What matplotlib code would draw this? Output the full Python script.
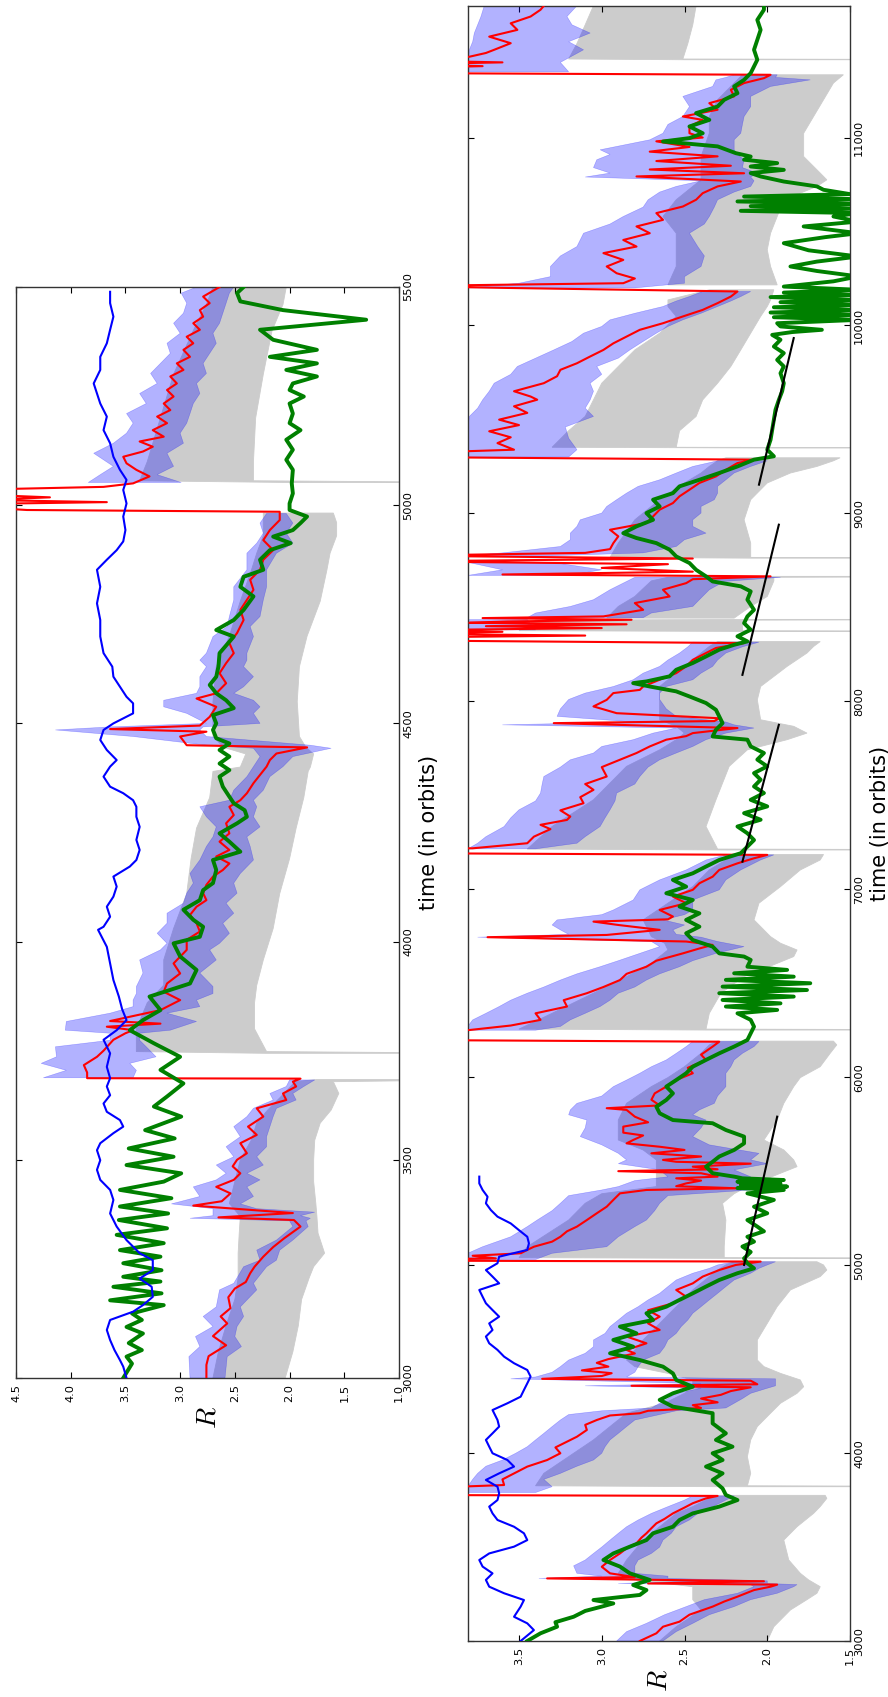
import matplotlib
matplotlib.use("Agg")
import matplotlib.pyplot as plt

plt.rcParams['mathtext.fontset'] = 'cm'

# ---------------- TOP PANEL DATA (time, R) ----------------
top_red = [(3000,2.76),(3030,2.76),(3050,2.74),(3075,2.58),(3096,2.70),(3125,2.57),(3141,2.63),(3160,2.54),
 (3185,2.56),(3205,2.50),(3220,2.40),(3240,2.36),(3255,2.32),(3278,2.24),(3300,2.15),(3320,2.05),(3347,1.90),
 (3362,1.96),(3368,2.65),(3378,1.97),(3395,2.88),(3405,2.62),(3423,2.54),(3438,2.67),(3454,2.51),(3469,2.45),
 (3485,2.52),(3500,2.48),(3515,2.39),(3538,2.45),(3557,2.30),(3576,2.38),(3599,2.24),(3618,2.30),(3637,2.03),
 (3652,2.06),(3668,1.94),(3679,1.97),(3686,1.90),(3687,3.85),(3700,3.85),(3717,3.88),(3736,3.76),(3750,3.70),
 (3775,3.61),(3790,3.50),(3797,3.43),(3805,3.67),(3812,3.18),(3818,3.64),(3843,3.18),(3866,3.00),(3885,3.15),
 (3904,3.12),(3927,3.00),(3950,3.06),(3981,2.94),(4004,2.94),(4023,2.82),(4042,2.85),
 (4061,2.91),(4080,2.85),(4095,2.76),(4111,2.79),(4130,2.76),(4149,2.70),(4164,2.61),(4179,2.55),(4195,2.67),
 (4210,2.55),(4229,2.64),(4248,2.55),(4271,2.58),(4290,2.51),(4309,2.55),(4324,2.45),(4340,2.39),(4363,2.33),
 (4382,2.27),(4401,2.21),(4416,2.18),(4431,2.12),(4445,1.84),(4450,2.94),(4470,3.00),(4481,2.76),(4487,3.64),
 (4495,2.82),(4515,2.73),(4538,2.67),(4557,2.85),(4569,2.67),(4592,2.58),(4615,2.64),(4638,2.58),(4661,2.51),
 (4684,2.55),(4707,2.48),(4737,2.42),(4760,2.45),(4783,2.39),(4806,2.33),(4829,2.36),(4852,2.27),(4875,2.24),
 (4897,2.15),(4920,2.24),(4943,2.18),(4966,2.09),(4985,2.09),(4989,4.40),(4995,4.8),(5003,4.8),(5007,3.67),
 (5012,4.8),(5018,4.19),(5024,4.8),(5036,4.8),(5042,3.70),(5050,3.43),(5066,3.28),(5081,3.40),(5096,3.49),
 (5111,3.52),(5123,3.34),(5134,3.25),(5146,3.37),(5157,3.15),(5172,3.25),(5188,3.12),(5203,3.21),(5218,3.09),
 (5233,3.15),(5249,3.06),(5264,3.12),(5279,3.03),(5295,3.09),(5310,2.97),(5325,3.03),(5340,2.91),(5356,2.97),
 (5371,2.88),(5386,2.94),(5402,2.82),(5417,2.88),(5432,2.79),(5447,2.82),(5463,2.73),(5478,2.79),(5500,2.64)]

top_blue = [(3000,3.49),(3026,3.52),(3041,3.55),(3064,3.60),(3087,3.64),(3110,3.67),(3133,3.64),(3152,3.43),
 (3167,3.34),(3186,3.25),(3209,3.26),(3228,3.37),(3247,3.25),(3270,3.25),(3286,3.37),(3316,3.49),(3347,3.58),
 (3377,3.64),(3408,3.61),(3431,3.64),(3454,3.73),(3477,3.76),(3499,3.73),(3522,3.76),(3538,3.73),(3561,3.61),
 (3576,3.52),(3591,3.55),(3610,3.67),(3629,3.70),(3648,3.64),(3668,3.67),(3687,3.64),(3713,3.67),(3744,3.64),
 (3775,3.70),(3797,3.58),(3820,3.49),(3845,3.53),(3874,3.56),(3912,3.61),(3950,3.64),(3988,3.67),(4027,3.75),
 (4034,3.70),(4057,3.64),(4080,3.67),(4103,3.61),(4126,3.58),(4149,3.61),(4172,3.46),
 (4187,3.40),(4210,3.37),(4233,3.40),(4263,3.37),(4286,3.40),(4309,3.40),(4324,3.43),(4340,3.52),(4355,3.64),
 (4378,3.70),(4401,3.64),(4416,3.58),(4439,3.67),(4462,3.73),(4485,3.70),(4500,3.61),(4523,3.43),(4546,3.43),
 (4561,3.49),(4584,3.55),(4607,3.61),(4630,3.62),(4661,3.70),(4699,3.73),(4737,3.73),(4775,3.76),(4813,3.73),
 (4852,3.76),(4875,3.67),(4897,3.58),(4917,3.52),(4943,3.50),(4974,3.52),(5004,3.49),(5035,3.52),(5058,3.49),
 (5081,3.55),(5111,3.61),(5142,3.64),(5172,3.70),(5203,3.67),(5233,3.73),(5256,3.76),(5279,3.79),(5310,3.73),
 (5340,3.73),(5371,3.67),(5402,3.64),(5432,3.61),(5463,3.64),(5489,3.64)]

top_green = [(3000,3.52),(3033,3.44),(3049,3.49),(3064,3.35),(3080,3.47),(3102,3.34),(3117,3.49),(3133,3.35),
 (3148,3.44),(3167,3.15),(3178,3.64),(3194,3.17),(3209,3.61),(3221,3.18),(3232,3.52),(3247,3.17),(3263,3.52),
 (3278,3.18),(3293,3.55),(3309,3.15),(3328,3.58),(3343,3.12),(3362,3.56),(3377,3.11),(3393,3.55),(3412,3.08),
 (3431,3.55),(3450,3.15),(3469,2.99),(3488,3.49),(3507,3.06),(3526,3.47),(3549,3.05),(3568,3.32),(3599,2.99),
 (3622,3.24),(3645,3.12),(3675,2.97),(3706,3.18),(3736,3.00),(3767,3.24),(3797,3.46),(3820,3.34),(3843,3.18),
 (3874,3.28),(3904,2.91),(3935,2.85),(3966,3.00),(3996,3.06),(4011,2.82),(4034,2.79),(4050,2.88),(4073,2.97),
 (4095,2.82),(4118,2.79),(4134,2.70),(4164,2.67),(4187,2.70),
 (4206,2.45),(4229,2.55),(4248,2.64),(4271,2.48),(4286,2.39),(4301,2.41),(4317,2.51),(4332,2.55),(4355,2.61),
 (4378,2.64),(4393,2.55),(4408,2.64),(4424,2.55),(4439,2.64),(4454,2.55),(4466,2.67),(4485,2.70),(4500,2.67),
 (4519,2.70),(4535,2.51),(4553,2.58),(4569,2.67),(4588,2.73),(4607,2.67),(4630,2.65),(4661,2.64),(4699,2.51),
 (4714,2.67),(4737,2.51),(4760,2.42),(4791,2.33),(4813,2.45),(4836,2.42),(4852,2.24),(4875,2.27),(4897,2.18),
 (4913,1.99),(4928,2.15),(4943,1.97),(4959,1.90),(4974,1.84),(4989,2.00),(5004,2.00),(5027,1.97),(5050,1.98),
 (5081,1.97),(5104,2.03),(5127,1.97),(5150,2.03),(5172,1.90),(5188,2.00),(5210,1.97),(5233,2.00),(5249,1.87),
 (5264,2.00),(5279,1.97),(5295,1.75),(5310,2.03),(5325,1.75),(5340,2.18),(5356,1.75),(5379,2.15),(5402,2.27),
 (5425,1.30),(5447,2.06),(5467,2.45),(5486,2.48),(5500,2.42)]

# blue band segments: (time, R high, R low)
top_band = [
 [(3000,2.91,2.59),(3049,2.92,2.57),(3072,2.82,2.44),(3095,2.86,2.50),(3118,2.70,2.48),(3141,2.79,2.42),
  (3163,2.67,2.45),(3202,2.64,2.30),(3217,2.51,2.33),(3255,2.42,2.21),(3270,2.27,2.12),(3293,2.30,2.09),
  (3316,2.12,1.97),(3347,1.97,1.83),(3360,2.00,1.85),(3366,2.91,1.81),(3372,2.70,1.90),(3380,2.70,1.77),
  (3388,2.70,2.30),(3399,3.08,2.45),(3416,2.82,2.33),(3438,2.88,2.39),(3454,2.67,2.27),(3469,2.58,2.39),
  (3488,2.67,2.24),(3507,2.51,2.30),(3530,2.58,2.21),(3553,2.45,2.21),(3576,2.51,2.18),(3599,2.39,2.15),
  (3618,2.33,2.12),(3637,2.15,1.94),(3652,2.18,1.97),(3668,2.03,1.87),(3683,2.00,1.77)],
 [(3688,4.25,3.43),(3705,4.04,3.40),(3721,4.27,3.46),(3736,4.13,3.22),(3759,4.14,3.31),(3774,3.64,3.37),
  (3790,3.64,3.37),(3797,4.05,3.09),(3817,4.04,2.85),(3836,3.64,3.12),(3851,3.43,2.82),(3866,3.43,2.85),
  (3881,3.40,2.70),(3897,3.40,2.70),(3928,3.34,2.82),(3958,3.37,2.67),(3981,3.18,2.73),(3996,3.12,2.64),
  (4019,3.21,2.55),(4042,3.12,2.61),(4065,3.12,2.51),(4088,2.97,2.58),(4111,2.94,2.48),(4134,2.88,2.51),
  (4156,2.91,2.45),(4187,2.82,2.33),(4218,2.76,2.36),(4240,2.70,2.39),(4263,2.67,2.27),(4286,2.76,2.33),
  (4309,2.82,2.30),(4324,2.55,2.33),(4347,2.51,2.24),(4378,2.39,2.18),(4401,2.33,2.06),(4424,2.27,1.97),
  (4443,2.33,1.62),(4450,2.76,1.81),(4470,3.43,2.76),(4485,4.14,2.82),(4492,3.64,2.79),(4500,2.76,2.27),
  (4523,2.94,2.33),(4538,3.15,2.27),(4553,3.15,2.33),(4569,2.85,2.51),(4584,2.82,2.42),(4607,2.82,2.33),
  (4630,2.76,2.42),(4645,2.82,2.39),(4661,2.76,2.39),(4699,2.70,2.33),(4722,2.57,2.36),(4745,2.55,2.27),
  (4783,2.51,2.24),(4813,2.51,2.21),(4852,2.39,2.21),(4890,2.39,2.12),(4913,2.30,1.97),(4936,2.24,2.03),
  (4959,2.27,1.97),(4981,2.21,2.03)],
 [(5052,3.84,2.99),(5070,3.73,3.21),(5089,3.61,3.06),(5119,3.79,3.12),(5142,3.61,2.97),(5165,3.49,3.00),
  (5188,3.43,2.94),(5210,3.49,2.91),(5233,3.31,2.88),(5256,3.37,2.82),(5279,3.21,2.85),(5302,3.27,2.76),
  (5325,3.18,2.79),(5348,3.09,2.73),(5371,3.12,2.67),(5394,3.00,2.70),(5417,3.06,2.64),(5440,2.97,2.61),
  (5463,2.94,2.58),(5486,2.99,2.55),(5500,2.85,2.51)],
]

# grey band segments: (time, R high, R low)
top_grey = [
 [(3000,2.70,2.04),(3060,2.65,1.97),(3120,2.58,1.92),(3180,2.50,1.89),(3230,2.47,1.82),(3255,2.47,1.78),
  (3286,2.47,1.68),(3332,2.46,1.74),(3370,2.45,1.75),(3400,2.55,1.76),(3450,2.50,1.78),(3500,2.45,1.78),
  (3545,2.35,1.77),(3584,2.30,1.72),(3614,2.20,1.62),(3652,2.05,1.55),(3679,1.95,1.60),(3684,1.75,0.0)],
 [(3744,2.21,0.0),(3748,3.40,2.21),(3800,3.40,2.32),(3860,3.30,2.32),(3900,3.15,2.30),(3958,3.15,2.24),
  (4030,3.06,2.15),(4110,2.94,2.09),(4190,2.90,2.00),(4260,2.85,1.94),(4330,2.73,1.87),(4390,2.70,1.83),
  (4400,2.45,1.81),(4430,2.40,1.78),(4445,2.60,1.85),(4470,2.70,1.91),(4550,2.70,1.93),(4630,2.67,1.91),
  (4700,2.55,1.84),(4780,2.45,1.72),(4850,2.35,1.66),(4890,2.30,1.63),(4930,2.24,1.57),(4960,2.24,1.57),
  (4982,2.24,1.60)],
 [(5052,1.99,0.0),(5056,3.37,2.33),(5100,3.30,2.33),(5200,3.18,2.31),(5300,3.06,2.24),(5400,2.88,2.16),
  (5460,2.76,2.06),(5500,2.70,2.03)],
]

# ---------------- BOTTOM PANEL DATA (time, R) ----------------
bot_red = [(3000,2.77),(3041,2.67),(3076,2.63),(3103,2.53),(3140,2.47),(3183,2.33),(3210,2.26),(3236,2.18),
 (3271,2.08),(3289,1.98),(3300,1.94),(3306,2.72),(3318,2.02),(3333,3.33),(3340,2.80),(3360,2.95),(3395,3.00),
 (3431,2.95),(3466,2.89),(3500,2.84),(3520,2.79),(3550,2.76),(3573,2.73),(3600,2.70),(3626,2.67),(3650,2.62),
 (3679,2.57),(3710,2.50),(3733,2.45),(3759,2.37),(3772,2.30),(3777,4.2),(3810,4.2),(3830,3.59),(3860,3.60),
 (3892,3.53),(3928,3.45),(3963,3.33),(3999,3.25),(4030,3.28),(4052,3.23),(4087,3.15),(4123,3.09),(4150,3.10),
 (4176,3.03),(4200,2.95),(4212,2.77),(4225,2.72),(4240,2.40),(4255,2.45),(4270,2.30),(4290,2.40),(4310,2.28),
 (4330,2.22),(4350,2.10),(4358,2.82),(4366,2.06),(4385,2.10),(4395,3.36),(4410,3.00),(4425,2.94),(4440,3.12),
 (4460,2.96),(4480,3.03),(4500,2.96),(4530,2.80),(4549,2.85),(4584,2.73),(4620,2.85),(4655,2.65),(4690,2.72),
 (4726,2.65),(4760,2.72),(4797,2.57),(4832,2.49),(4868,2.55),(4903,2.45),(4939,2.39),(4974,2.29),(5001,2.19),
 (5019,2.04),(5024,4.2),(5030,4.2),(5036,3.64),(5050,3.78),(5063,3.49),(5081,3.45),(5098,3.41),(5125,3.30),
 (5151,3.25),(5180,3.21),(5205,3.15),(5240,3.09),(5276,3.03),(5311,2.97),(5347,2.93),(5382,2.89),(5400,2.73),
 (5409,2.18),(5420,2.55),(5435,2.49),(5450,2.40),(5462,2.55),(5471,2.30),(5489,2.40),(5500,2.90),(5510,2.30),
 (5524,2.45),(5540,2.10),(5550,2.55),(5560,2.63),(5578,2.40),(5595,2.70),(5613,2.50),(5630,2.65),(5648,2.85),
 (5666,2.81),(5690,2.75),(5705,2.87),(5737,2.87),(5760,2.72),(5790,2.80),(5826,2.85),(5835,2.97),(5850,2.65),
 (5880,2.70),(5914,2.68),(5950,2.61),(5985,2.55),(6021,2.45),(6050,2.48),(6092,2.37),(6120,2.40),(6163,2.33),
 (6189,2.29),(6198,4.2),(6248,4.2),(6251,3.80),(6275,3.55),(6305,3.37),(6340,3.40),(6376,3.21),(6410,3.23),
 (6447,3.09),(6480,2.99),(6517,2.89),(6550,2.85),(6588,2.73),(6620,2.67),(6659,2.51),(6685,2.41),(6704,2.33),
 (6722,2.49),(6745,3.69),(6757,2.97),(6784,2.65),(6810,2.90),(6828,3.05),(6840,2.60),(6855,2.57),(6890,2.65),
 (6926,2.49),(6961,2.57),(6997,2.45),(7032,2.41),(7067,2.33),(7103,2.29),(7138,2.18),(7165,2.08),(7183,2.00),
 (7192,4.2),(7215,4.2),(7218,3.78),(7245,3.45),(7280,3.41),(7320,3.31),(7343,3.37),(7369,3.21),(7387,3.19),
 (7420,3.25),(7458,3.11),(7490,3.13),(7529,3.05),(7560,3.10),(7600,2.97),(7650,3.00),(7689,2.89),(7725,2.79),
 (7760,2.71),(7796,2.61),(7815,2.49),(7831,2.45),(7858,2.18),(7884,3.29),(7895,2.32),(7910,2.29),(7937,2.91),
 (7973,3.05),(8008,2.97),(8044,2.93),(8061,2.77),(8079,2.75),(8115,2.65),(8150,2.55),(8186,2.49),(8221,2.45),
 (8257,2.37),(8284,2.31),(8310,2.14),(8324,4.2),(8340,4.2),(8350,3.10),(8360,4.2),(8370,3.60),(8378,4.2),
 (8390,3.00),(8400,3.70),(8410,2.85),(8418,3.80),(8425,3.57),(8434,2.82),(8443,3.72),(8452,2.99),(8487,2.75),
 (8523,2.80),(8558,2.59),(8594,2.63),(8629,2.49),(8650,2.45),(8665,1.98),(8675,3.60),(8690,2.45),(8710,3.00),
 (8730,2.60),(8745,4.2),(8760,2.45),(8775,4.2),(8790,3.10),(8810,2.95),(8842,2.93),(8878,2.90),(8913,2.95),
 (8949,2.73),(8984,2.69),(9020,2.65),(9055,2.57),(9091,2.53),(9126,2.47),(9162,2.41),(9197,2.31),(9232,2.25),
 (9268,2.18),(9286,2.08),(9300,4.2),(9320,4.2),(9339,3.53),(9374,3.63),(9405,3.55),(9437,3.68),(9470,3.50),
 (9499,3.62),(9535,3.45),(9570,3.53),(9605,3.39),(9622,3.43),(9650,3.53),(9693,3.35),(9730,3.27),(9764,3.25),
 (9799,3.15),(9835,3.07),(9870,2.99),(9905,2.93),(9941,2.85),(9977,2.77),(10012,2.63),(10048,2.51),(10083,2.39),
 (10119,2.30),(10154,2.22),(10181,2.18),(10200,3.59),(10210,4.2),(10225,2.87),(10250,2.80),(10278,2.91),
 (10314,2.97),(10349,2.87),(10385,2.99),(10420,2.79),(10455,2.87),(10491,2.71),(10527,2.79),(10562,2.63),
 (10598,2.67),(10633,2.51),(10669,2.43),(10704,2.39),(10740,2.30),(10766,2.16),(10793,2.79),(10810,2.14),
 (10830,2.71),(10850,2.22),(10875,2.67),(10900,2.30),(10925,2.71),(10950,2.47),(10980,2.67),(11000,2.39),
 (11023,2.47),(11059,2.47),(11094,2.39),(11112,2.51),(11148,2.30),(11183,2.35),(11219,2.20),(11254,2.22),
 (11290,2.14),(11316,2.02),(11334,1.98),(11343,4.2),(11370,4.2),(11380,3.72),(11390,4.2),(11400,3.60),
 (11410,4.2),(11430,3.80),(11450,3.70),(11467,3.65),(11502,3.55),(11537,3.68),(11573,3.51),(11608,3.55),
 (11644,3.43),(11680,3.37),(11701,3.35)]

bot_blue = [(3000,3.49),(3058,3.41),(3094,3.45),(3129,3.53),(3183,3.49),(3218,3.47),(3254,3.59),(3289,3.68),
 (3325,3.70),(3360,3.66),(3396,3.72),(3431,3.74),(3466,3.68),(3502,3.53),(3537,3.45),(3573,3.47),(3608,3.53),
 (3644,3.63),(3679,3.66),(3715,3.68),(3750,3.63),(3786,3.62),(3821,3.63),(3857,3.70),(3892,3.62),(3928,3.53),
 (3963,3.57),(3999,3.66),(4034,3.68),(4070,3.70),(4105,3.66),(4141,3.62),(4176,3.63),(4229,3.66),(4265,3.57),
 (4300,3.49),(4336,3.47),(4371,3.45),(4407,3.43),(4442,3.45),(4478,3.53),(4513,3.59),(4549,3.63),(4584,3.68),
 (4620,3.70),(4655,3.66),(4690,3.68),(4726,3.62),(4761,3.66),(4797,3.70),(4832,3.72),(4868,3.74),(4903,3.62),
 (4939,3.66),(4974,3.70),(5010,3.63),(5045,3.62),(5081,3.45),(5116,3.44),(5151,3.45),(5186,3.50),(5222,3.55),
 (5258,3.63),(5293,3.67),(5329,3.70),(5364,3.69),(5400,3.72),(5435,3.74),(5471,3.74)]

bot_green = [(3000,3.45),(3041,3.37),(3076,3.27),(3100,3.28),(3129,3.17),(3160,3.10),(3183,3.00),(3200,2.93),
 (3218,3.05),(3245,2.77),(3271,2.73),(3298,2.81),(3325,2.71),(3360,2.83),(3396,2.89),(3431,2.99),(3466,2.93),
 (3502,2.83),(3537,2.73),(3573,2.69),(3608,2.57),(3644,2.53),(3679,2.45),(3715,2.29),(3750,2.18),(3777,2.25),
 (3812,2.27),(3857,2.33),(3892,2.27),(3928,2.37),(3963,2.27),(3999,2.33),(4034,2.21),(4070,2.31),(4105,2.25),
 (4158,2.33),(4212,2.33),(4247,2.57),(4283,2.65),(4318,2.57),(4353,2.45),(4389,2.55),(4424,2.57),(4460,2.63),
 (4495,2.77),(4531,2.95),(4566,2.81),(4602,2.93),(4637,2.79),(4673,2.89),(4708,2.69),(4744,2.73),(4779,2.61),
 (4815,2.53),(4850,2.45),(4886,2.37),(4921,2.29),(4957,2.18),(4983,2.08),(5010,2.12),(5036,2.14),(5070,2.10),
 (5099,2.15),(5125,2.08),(5151,2.12),(5180,2.02),(5205,2.06),(5240,2.12),(5276,2.00),(5311,2.08),(5347,1.96),
 (5382,2.12),(5400,1.90),(5410,2.18),(5418,1.88),(5427,2.16),(5435,1.92),(5444,2.18),(5453,1.90),(5462,2.15),
 (5471,2.20),(5489,2.33),(5524,2.37),(5550,2.33),(5578,2.29),(5613,2.20),(5648,2.14),(5684,2.14),(5719,2.25),
 (5755,2.33),(5772,2.57),(5808,2.65),(5843,2.67),(5879,2.61),(5914,2.57),(5950,2.61),(5985,2.55),(6021,2.49),
 (6056,2.45),(6092,2.37),(6127,2.29),(6163,2.20),(6198,2.12),(6234,2.10),(6269,2.08),(6305,2.10),(6340,2.18),
 (6358,1.94),(6376,2.25),(6393,1.92),(6411,2.27),(6429,1.84),(6447,2.29),(6464,1.76),(6482,2.27),(6500,1.74),
 (6518,2.25),(6535,1.84),(6553,2.20),(6571,1.88),(6588,2.12),(6624,2.10),(6642,2.14),(6659,2.29),(6695,2.33),
 (6730,2.45),(6766,2.49),(6801,2.41),(6837,2.49),(6872,2.41),(6908,2.53),(6943,2.45),(6979,2.61),(7014,2.49),
 (7050,2.57),(7085,2.45),(7121,2.37),(7156,2.29),(7192,2.16),(7227,2.12),(7262,2.08),(7298,2.12),(7334,2.18),
 (7370,2.04),(7405,2.14),(7441,2.00),(7476,2.10),(7512,2.02),(7547,2.08),(7583,2.04),(7618,2.08),(7654,2.00),
 (7690,2.06),(7725,2.02),(7760,2.10),(7796,2.12),(7813,2.33),(7849,2.31),(7884,2.27),(7920,2.29),(7955,2.31),
 (7991,2.37),(8026,2.47),(8053,2.55),(8079,2.71),(8097,2.81),(8106,2.73),(8133,2.59),(8168,2.55),(8204,2.45),
 (8239,2.37),(8275,2.29),(8301,2.20),(8319,2.12),(8346,2.18),(8381,2.10),(8416,2.14),(8452,2.12),(8487,2.08),
 (8541,2.12),(8585,2.10),(8612,2.16),(8638,2.33),(8665,2.37),(8700,2.43),(8736,2.47),(8771,2.55),(8807,2.59),
 (8842,2.67),(8869,2.79),(8895,2.87),(8931,2.79),(8966,2.69),(9002,2.73),(9037,2.65),(9073,2.69),(9108,2.57),
 (9144,2.53),(9179,2.41),(9215,2.29),(9250,2.18),(9286,2.08),(9304,1.96),(9339,2.00),(9392,1.98),(9446,1.97),
 (9499,1.96),(9552,1.95),(9604,1.93),(9650,1.91),(9693,1.90),(9746,1.92),(9782,1.90),(9817,1.94),(9853,1.90),
 (9888,1.96),(9924,1.92),(9950,1.97),(9965,1.85),(9977,1.67),(9995,1.92),(10012,1.94),(10030,1.45),(10044,1.96),
 (10057,1.45),(10069,1.98),(10083,1.45),(10097,1.96),(10110,1.45),(10124,1.92),(10136,1.45),(10151,1.98),
 (10163,1.45),(10175,1.90),(10190,1.45),(10207,1.90),(10235,1.60),(10261,1.45),(10290,1.70),(10314,1.86),
 (10340,1.70),(10367,1.45),(10400,1.75),(10438,1.90),(10470,1.65),(10491,1.45),(10527,1.78),(10553,1.45),
 (10580,1.60),(10598,1.45),(10610,2.16),(10622,1.45),(10635,2.10),(10647,1.45),(10660,2.18),(10672,1.45),
 (10686,2.14),(10699,1.50),(10722,1.66),(10740,1.70),(10766,1.90),(10793,2.04),(10811,2.10),(10828,1.90),
 (10846,2.10),(10864,1.94),(10882,2.14),(10899,2.10),(10917,2.19),(10953,2.30),(10970,2.51),(10979,2.63),
 (10997,2.47),(11023,2.39),(11059,2.47),(11094,2.35),(11130,2.43),(11165,2.30),(11201,2.26),(11236,2.18),
 (11272,2.20),(11307,2.14),(11343,2.10),(11378,2.08),(11414,2.06),(11467,2.08),(11520,2.06),(11573,2.04),
 (11626,2.06),(11680,2.02),(11701,2.02)]

bot_band = [
 [(3000,2.91,2.63),(3050,2.85,2.55),(3094,2.73,2.45),(3140,2.62,2.35),(3183,2.49,2.20),(3220,2.38,2.10),
  (3254,2.18,1.94),(3289,2.08,1.84),(3300,2.10,1.82),(3306,2.90,2.00),(3320,2.40,2.00),(3333,3.38,2.60),
  (3345,3.00,2.60),(3360,3.15,2.80),(3400,3.17,2.80),(3431,3.10,2.78),(3466,3.05,2.70),(3500,3.00,2.65),
  (3537,2.95,2.63),(3573,2.90,2.58),(3608,2.85,2.55),(3644,2.78,2.47),(3679,2.70,2.42),(3715,2.60,2.33),
  (3750,2.50,2.25),(3772,2.45,2.20)],
 [(3790,3.81,3.40),(3821,3.81,3.30),(3860,3.78,3.35),(3892,3.75,3.25),(3930,3.70,3.15),(3963,3.60,3.05),
  (3999,3.52,3.00),(4034,3.45,2.98),(4070,3.40,2.95),(4105,3.35,2.90),(4141,3.30,2.85),(4176,3.25,2.80),
  (4205,3.20,2.65),(4225,3.00,2.55),(4240,2.70,2.25),(4265,2.65,2.20),(4290,2.60,2.15),(4318,2.55,2.10),
  (4345,2.40,2.00),(4358,3.10,1.95),(4370,2.40,1.95),(4395,3.55,1.95),(4405,3.40,2.85),(4430,3.30,2.80),
  (4460,3.25,2.78),(4495,3.20,2.75),(4531,3.10,2.65),(4566,3.05,2.62),(4602,3.05,2.60),(4637,2.98,2.55),
  (4673,2.95,2.52),(4708,2.90,2.48),(4744,2.85,2.45),(4779,2.78,2.40),(4815,2.72,2.35),(4850,2.65,2.30),
  (4886,2.60,2.25),(4921,2.55,2.20),(4957,2.45,2.10),(4983,2.35,2.05),(5001,2.30,2.00),(5018,2.20,1.95)],
 [(5030,3.81,3.40),(5063,3.81,3.30),(5098,3.72,2.97),(5151,3.55,2.90),(5205,3.45,2.80),(5240,3.39,2.73),
  (5290,3.30,2.68),(5329,3.25,2.65),(5370,3.20,2.60),(5400,3.00,2.10),(5418,2.90,2.00),(5450,2.80,2.15),
  (5470,2.60,2.10),(5507,2.65,2.20),(5540,2.90,2.00),(5560,2.85,2.10),(5595,2.90,2.05),(5640,3.00,2.35),
  (5684,3.13,2.45),(5730,3.10,2.40),(5772,3.09,2.37),(5800,3.20,2.45),(5826,3.19,2.41),(5861,3.15,2.32),
  (5900,3.00,2.30),(5950,2.93,2.25),(5985,2.85,2.25),(6021,2.77,2.25),(6056,2.70,2.22),(6092,2.61,2.20),
  (6127,2.55,2.15),(6163,2.49,2.08),(6190,2.45,2.05)],
 [(6250,3.81,3.40),(6270,3.81,3.25),(6305,3.78,3.19),(6340,3.70,3.10),(6376,3.62,3.01),(6410,3.55,2.95),
  (6447,3.45,2.90),(6480,3.35,2.80),(6517,3.25,2.73),(6550,3.15,2.65),(6588,3.01,2.53),(6620,2.90,2.45),
  (6659,2.77,2.31),(6695,2.65,2.14),(6722,2.70,2.30),(6745,3.75,2.40),(6760,3.20,2.55),(6784,3.25,2.57),
  (6810,3.30,2.50),(6837,3.27,2.63),(6865,3.00,2.50),(6890,2.93,2.45),(6943,2.81,2.45),(6997,2.77,2.29),
  (7050,2.65,2.25),(7103,2.49,2.16),(7156,2.37,2.04),(7183,2.25,1.96)],
 [(7215,3.81,3.40),(7245,3.75,3.15),(7280,3.70,3.10),(7334,3.59,3.01),(7380,3.55,2.98),(7423,3.50,2.95),
  (7470,3.40,2.92),(7512,3.37,2.91),(7560,3.36,2.80),(7600,3.35,2.77),(7650,3.25,2.72),(7689,3.19,2.65),
  (7725,3.05,2.55),(7760,3.00,2.45),(7796,2.81,2.37),(7831,2.69,2.25),(7858,2.55,2.08),(7875,3.60,2.20),
  (7890,2.80,2.25),(7920,3.27,2.55),(7960,3.25,2.61),(8010,3.20,2.65),(8044,3.10,2.65),(8079,2.93,2.61),
  (8115,2.81,2.45),(8150,2.75,2.40),(8186,2.65,2.33),(8220,2.60,2.30),(8257,2.53,2.25),(8290,2.48,2.15),
  (8315,2.45,2.05)],
 [(8380,3.81,3.40),(8435,3.81,3.45)],
 [(8445,3.45,2.75),(8470,3.40,2.70),(8505,3.19,2.45),(8541,3.05,2.41),(8594,2.95,2.35),(8638,2.85,2.26),
  (8660,2.80,1.92)],
 [(8670,3.81,3.20),(8700,3.60,3.00),(8740,3.81,3.30)],
 [(8775,3.81,3.30),(8790,3.60,2.75),(8824,3.25,2.55),(8860,3.19,2.50),(8895,3.19,2.37),(8931,3.15,2.45),
  (8966,3.13,2.45),(9002,3.00,2.40),(9037,2.97,2.40),(9073,2.91,2.32),(9108,2.85,2.30),(9144,2.78,2.30),
  (9179,2.65,2.25),(9215,2.55,2.20),(9250,2.45,2.10),(9280,2.30,2.00)],
 [(9300,3.81,3.20),(9339,3.81,3.15),(9400,3.81,3.20),(9460,3.81,3.22),(9516,3.80,3.05),(9560,3.75,3.10),
  (9604,3.72,3.07),(9650,3.68,3.05),(9693,3.65,3.07),(9740,3.55,3.00),(9782,3.51,3.03),(9826,3.40,2.90),
  (9870,3.29,2.83),(9915,3.18,2.75),(9959,3.11,2.67),(9995,3.00,2.60),(10030,2.95,2.51),(10065,2.80,2.40),
  (10101,2.63,2.30),(10130,2.55,2.22),(10154,2.47,2.16),(10181,2.39,2.10)],
 [(10200,3.81,2.80),(10225,3.50,2.50),(10260,3.31,2.50),(10314,3.31,2.40),(10370,3.25,2.38),(10420,3.15,2.42),
  (10491,3.11,2.47),(10540,2.95,2.38),(10580,2.87,2.35),(10630,2.75,2.32),(10669,2.72,2.30),(10710,2.65,2.20),
  (10740,2.55,2.10),(10770,2.40,2.08),(10790,3.10,2.10),(10811,2.95,2.06),(10840,3.05,2.15),(10882,3.03,2.14),
  (10910,2.95,2.18),(10935,3.01,2.20),(10988,2.71,2.20),(11023,2.63,2.16),(11070,2.60,2.15),(11112,2.51,2.14),
  (11165,2.47,2.10),(11219,2.51,2.10),(11272,2.33,1.98),(11307,2.31,1.74),(11320,2.25,1.95),(11334,2.20,1.94)],
 [(11350,3.81,3.20),(11400,3.81,3.25),(11467,3.80,3.11),(11510,3.78,3.20),(11556,3.77,3.07),(11600,3.75,3.18),
  (11644,3.73,3.21),(11701,3.71,3.15)],
]

bot_grey = [
 [(3000,2.65,2.00),(3076,2.55,1.96),(3165,2.40,1.86),(3220,2.45,1.76),(3254,2.45,1.70),(3289,2.45,1.68),
  (3325,2.80,1.75),(3360,2.90,1.80),(3431,2.85,1.87),(3537,2.75,1.90),(3608,2.65,1.82),(3679,2.55,1.72),
  (3715,2.45,1.68),(3759,2.35,1.64),(3775,2.30,1.65)],
 [(3821,2.28,0.0),(3826,3.40,2.12),(3892,3.35,2.10),(3981,3.20,2.12),(4070,3.05,2.10),(4141,2.95,2.06),
  (4212,2.85,1.98),(4265,2.62,1.92),(4318,2.50,1.82),(4353,2.45,1.78),(4389,2.45,1.80),(4424,2.60,1.92),
  (4460,2.80,2.02),(4495,2.85,2.06),(4602,2.75,2.06),(4690,2.65,2.00),(4779,2.55,1.94),(4868,2.45,1.86),
  (4939,2.35,1.68),(4974,2.30,1.64),(5001,2.25,1.66),(5018,2.20,1.70)],
 [(5036,2.25,0.0),(5040,3.50,2.26),(5098,3.45,2.26),(5240,3.20,2.25),(5329,3.10,2.27),(5380,3.00,2.20),
  (5418,2.67,2.12),(5489,2.67,1.92),(5524,2.67,1.82),(5560,2.67,1.84),(5613,2.75,1.90),(5666,2.90,2.02),
  (5772,2.90,1.94),(5861,2.85,1.90),(5950,2.70,1.84),(5998,2.60,1.80),(6056,2.50,1.68),(6127,2.40,1.62),
  (6172,2.35,1.58),(6192,2.30,1.60)],
 [(6251,2.37,0.0),(6256,3.50,2.37),(6340,3.30,2.35),(6447,3.05,2.28),(6535,2.85,2.14),(6606,2.70,1.94),
  (6642,2.65,1.84),(6677,2.60,1.82),(6713,2.62,1.92),(6748,2.70,1.98),(6837,2.75,2.08),(6926,2.60,2.05),
  (7014,2.45,1.92),(7103,2.35,1.80),(7156,2.25,1.68),(7185,2.20,1.66)],
 [(7209,2.25,0.0),(7214,3.45,2.30),(7334,3.30,2.37),(7476,3.05,2.31),(7565,2.95,2.27),(7654,2.85,2.23),
  (7742,2.65,2.12),(7796,2.55,1.88),(7831,2.50,1.76),(7867,2.55,1.84),(7902,2.65,2.04),(8008,2.65,2.06),
  (8079,2.65,2.04),(8186,2.50,1.88),(8257,2.40,1.76),(8292,2.35,1.72),(8318,2.30,1.68)],
 [(8372,2.15,0.0),(8376,3.50,2.15),(8432,3.40,2.15),(8436,2.00,0.0)],
 [(8443,2.97,2.20),(8505,2.90,2.10),(8558,2.80,2.00),(8600,2.75,1.98),(8641,2.70,1.96),(8660,2.60,1.96),
  (8665,2.00,0.0)],
 [(8762,2.10,0.0),(8766,2.95,2.10),(8842,2.90,2.10),(8966,2.80,2.14),(9073,2.65,2.10),(9162,2.50,2.00),
  (9215,2.40,1.86),(9250,2.35,1.70),(9280,2.30,1.60),(9296,2.25,1.56)],
 [(9348,1.98,0.0),(9352,3.30,2.55),(9440,3.20,2.53),(9516,3.10,2.43),(9604,3.05,2.39),(9693,3.00,2.30),
  (9782,2.90,2.22),(9870,2.80,2.16),(9959,2.65,2.10),(10048,2.55,2.04),(10101,2.60,2.00),(10136,2.60,1.98),
  (10190,2.35,1.96)],
 [(10216,2.60,1.94),(10314,2.55,1.98),(10403,2.55,2.00),(10491,2.55,1.98),(10580,2.63,1.94),(10669,2.55,1.90),
  (10740,2.45,1.70),(10775,2.40,1.64),(10811,2.40,1.68),(10899,2.40,1.78),(11023,2.35,1.78),(11112,2.35,1.72),
  (11201,2.30,1.66),(11290,2.20,1.60),(11334,2.15,1.54)],
 [(11414,2.50,0.0),(11418,3.20,2.51),(11500,3.15,2.48),(11600,3.10,2.45),(11701,3.05,2.43)],
]

# straight black fits: ((t0, R0), (t1, R1))
bot_fits = [((5001,2.14),(5790,1.94)), ((7147,2.15),(7875,1.93)),
            ((8141,2.15),(8940,1.93)), ((9153,2.05),(9933,1.84))]

top_xticks = [4.5, 4.0, 3.5, 3.0, 2.5, 2.0, 1.5, 1.0]
top_yticks = [3000, 3500, 4000, 4500, 5000, 5500]
bot_xticks = [3.5, 3.0, 2.5, 2.0, 1.5]
bot_yticks = [3000, 4000, 5000, 6000, 7000, 8000, 9000, 10000, 11000]

# ---------------- drawing ----------------
W, H = 888, 1697
fig = plt.figure(figsize=(W/100, H/100), dpi=100)
ax_top = fig.add_axes([16/W, 1-1378/H, 383/W, 1091/H])
ax_bot = fig.add_axes([467.7/W, 1-1641/H, 382.3/W, 1635/H])


def draw_bands(ax, segs, color, alpha, lw):
    for seg in segs:
        t = [p[0] for p in seg]
        hi = [p[1] for p in seg]
        lo = [p[2] for p in seg]
        xs = hi + lo[::-1]
        ys = t + t[::-1]
        ax.fill(xs, ys, facecolor=color, edgecolor=color, alpha=alpha, lw=lw, zorder=1 if alpha == 1 else 2)


def draw_line(ax, pts, color, lw, z):
    ax.plot([p[1] for p in pts], [p[0] for p in pts], color=color, lw=lw, zorder=z,
            solid_joinstyle='round')


def style(ax, xlim, ylim, xt, yt):
    ax.set_xlim(*xlim)
    ax.set_ylim(*ylim)
    ax.set_xticks(xt)
    ax.set_xticklabels(['%.1f' % v for v in xt])
    ax.set_yticks(yt)
    ax.set_yticklabels([str(v) for v in yt])
    ax.tick_params(direction='in', length=4, width=0.8, top=True, bottom=True, left=True, right=True,
                   labelleft=False, labelright=True, labelsize=8.2, colors='black')
    ax.tick_params(axis='x', labelrotation=90, pad=4)
    ax.tick_params(axis='y', labelrotation=90, pad=3)
    for lab in ax.get_yticklabels():
        lab.set_verticalalignment('center')
    ax.yaxis.set_label_position('right')
    ax.set_ylabel('time (in orbits)', fontsize=15, rotation=90, labelpad=4)
    ax.set_xlabel('$R$', fontsize=20, rotation=90, labelpad=3)
    for s in ax.spines.values():
        s.set_linewidth(1.0)
        s.set_color('#333333')


# top panel
draw_bands(ax_top, top_grey, '#cccccc', 1, 0.6)
draw_bands(ax_top, top_band, '#0000ff', 0.3, 0.4)
draw_line(ax_top, top_red, '#ff0000', 1.5, 3)
draw_line(ax_top, top_green, '#008000', 2.8, 4)
draw_line(ax_top, top_blue, '#0000ff', 1.5, 5)
style(ax_top, (4.5, 1.0), (3000, 5500), top_xticks, top_yticks)

# bottom panel
draw_bands(ax_bot, bot_grey, '#cccccc', 1, 0.6)
draw_bands(ax_bot, bot_band, '#0000ff', 0.3, 0.4)
draw_line(ax_bot, bot_red, '#ff0000', 1.5, 3)
draw_line(ax_bot, bot_green, '#008000', 2.8, 4)
draw_line(ax_bot, bot_blue, '#0000ff', 1.5, 5)
for (t0, r0), (t1, r1) in bot_fits:
    ax_bot.plot([r0, r1], [t0, t1], color='black', lw=1.5, zorder=6)
style(ax_bot, (3.81, 1.5), (3000, 11700), bot_xticks, bot_yticks)

fig.savefig('out.png', dpi=100)
